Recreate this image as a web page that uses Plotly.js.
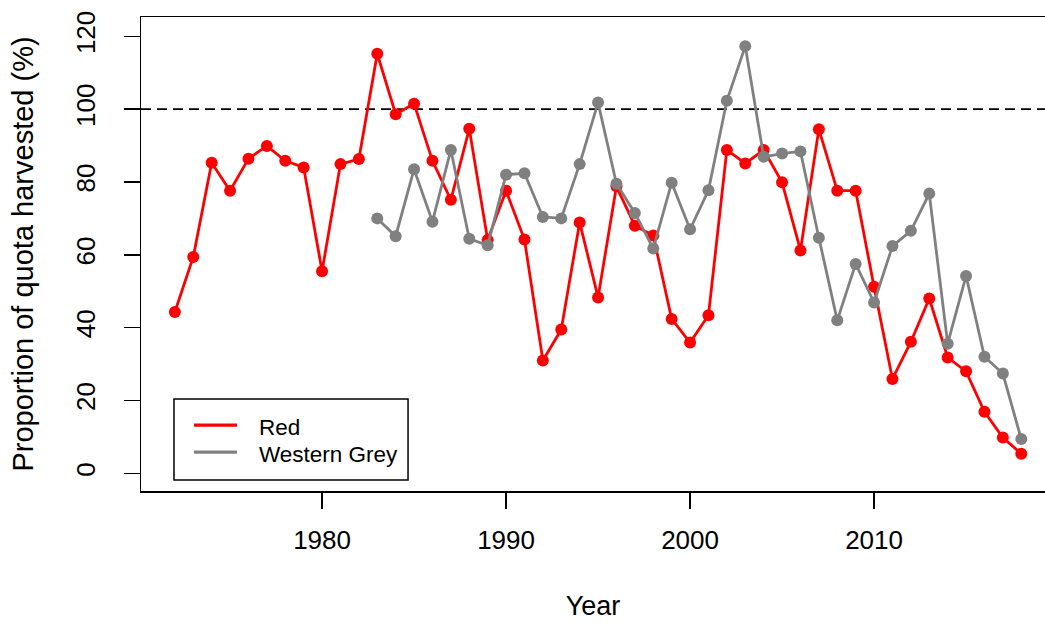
<!DOCTYPE html>
<html>
<head>
<meta charset="utf-8">
<script src="https://cdn.plot.ly/plotly-3.0.1.min.js"></script>
<style>
  html, body { margin: 0; padding: 0; background: #fff; }
  #chart { width: 1045px; height: 623px; }
</style>
</head>
<body>
<div id="chart"></div>
<script>
// Kangaroo harvest: proportion of the annual quota taken, by species
const yearsRed = [1972, 1973, 1974, 1975, 1976, 1977, 1978, 1979, 1980, 1981,
                  1982, 1983, 1984, 1985, 1986, 1987, 1988, 1989, 1990, 1991,
                  1992, 1993, 1994, 1995, 1996, 1997, 1998, 1999, 2000, 2001,
                  2002, 2003, 2004, 2005, 2006, 2007, 2008, 2009, 2010, 2011,
                  2012, 2013, 2014, 2015, 2016, 2017, 2018];
const redHarvest = [44.3, 59.4, 85.3, 77.6, 86.4, 89.9, 85.8, 84.0, 55.5, 84.9,
                    86.3, 115.2, 98.6, 101.5, 85.8, 75.1, 94.6, 64.1, 77.6, 64.2,
                    31.0, 39.5, 68.9, 48.3, 78.8, 68.0, 65.3, 42.4, 35.9, 43.4,
                    88.8, 85.1, 88.8, 79.9, 61.2, 94.5, 77.6, 77.6, 51.2, 25.9,
                    36.1, 48.0, 31.8, 28.0, 16.9, 9.8, 5.4];

const yearsGrey = [1983, 1984, 1985, 1986, 1987, 1988, 1989, 1990, 1991, 1992,
                   1993, 1994, 1995, 1996, 1997, 1998, 1999, 2000, 2001, 2002,
                   2003, 2004, 2005, 2006, 2007, 2008, 2009, 2010, 2011, 2012,
                   2013, 2014, 2015, 2016, 2017, 2018];
const greyHarvest = [70.0, 65.1, 83.5, 69.1, 88.8, 64.4, 62.6, 82.0, 82.4, 70.4,
                     70.0, 84.9, 101.8, 79.5, 71.5, 61.7, 79.8, 67.0, 77.7, 102.3,
                     117.3, 86.9, 87.8, 88.4, 64.7, 42.0, 57.5, 46.9, 62.4, 66.6,
                     76.8, 35.6, 54.2, 32.0, 27.4, 9.4];

const seriesNames = ['Red', 'Western Grey'];
const xTicks = [1980, 1990, 2000, 2010];
const yTicks = [0, 20, 40, 60, 80, 100, 120];
const quotaLine = 100;

const RED = '#FF0000';
const GREY = '#808080';
const FONT = 'Liberation Sans, Arial, sans-serif';

const traces = [
  {
    x: yearsRed, y: redHarvest, name: seriesNames[0], type: 'scatter',
    mode: 'lines+markers',
    line: { color: RED, width: 2.8 },
    marker: { color: RED, size: 12 }
  },
  {
    x: yearsGrey, y: greyHarvest, name: seriesNames[1], type: 'scatter',
    mode: 'lines+markers',
    line: { color: GREY, width: 2.8 },
    marker: { color: GREY, size: 12 }
  }
];

// Boxed key in the lower-left corner of the plot (paper coordinates)
const key = { x0: 0.0365, x1: 0.2954, y0: 0.0232, y1: 0.1941,
              lineX0: 0.0586, lineX1: 0.1062, textX: 0.1283,
              rows: [0.1330, 0.0760] };
const keyColors = [RED, GREY];

const shapes = [
  { type: 'line', xref: 'paper', x0: 0, x1: 1, yref: 'y', y0: quotaLine, y1: quotaLine,
    layer: 'below', line: { color: '#000', width: 1.8, dash: '10px,6px' } },
  { type: 'rect', xref: 'paper', yref: 'paper',
    x0: key.x0, x1: key.x1, y0: key.y0, y1: key.y1,
    fillcolor: '#fff', line: { color: '#000', width: 1.5 }, layer: 'above' }
];
const annotations = [];
seriesNames.forEach((name, i) => {
  shapes.push({ type: 'line', xref: 'paper', yref: 'paper',
    x0: key.lineX0, x1: key.lineX1, y0: key.rows[i] + 0.006, y1: key.rows[i] + 0.006,
    line: { color: keyColors[i], width: 3.2 }, layer: 'above' });
  annotations.push({ xref: 'paper', yref: 'paper', x: key.textX, y: key.rows[i],
    xanchor: 'left', yanchor: 'middle', showarrow: false, text: name,
    font: { size: 22.5, family: FONT, color: '#000' } });
});

const layout = {
  width: 1045, height: 623,
  margin: { l: 141, r: 0, t: 17, b: 132 },
  paper_bgcolor: '#fff', plot_bgcolor: '#fff',
  font: { family: FONT, color: '#000' },
  showlegend: false,
  xaxis: {
    range: [1970.16, 2019.29],
    tickmode: 'array', tickvals: xTicks, ticktext: xTicks.map(String),
    ticks: 'outside', ticklen: 16, tickwidth: 1.5, tickcolor: '#000',
    showline: true, mirror: true, linecolor: '#000', linewidth: 1.5,
    showgrid: false, zeroline: false,
    tickfont: { size: 26, family: FONT, color: '#000' },
    ticklabelstandoff: 9,
    title: { text: 'Year', font: { size: 27, family: FONT, color: '#000' }, standoff: 42 }
  },
  yaxis: {
    range: [-4.86, 125.3],
    tickmode: 'array', tickvals: yTicks, ticktext: yTicks.map(String),
    tickangle: -90,
    ticks: 'outside', ticklen: 16, tickwidth: 1.5, tickcolor: '#000',
    showline: true, linecolor: '#000', linewidth: 1.5,
    showgrid: false, zeroline: false,
    tickfont: { size: 26, family: FONT, color: '#000' },
    ticklabelstandoff: 18,
    title: { text: 'Proportion of quota harvested (%)',
             font: { size: 29, family: FONT, color: '#000' }, standoff: 29 }
  },
  shapes: shapes,
  annotations: annotations
};

Plotly.newPlot('chart', traces, layout, { staticPlot: true, displayModeBar: false });
</script>
</body>
</html>
